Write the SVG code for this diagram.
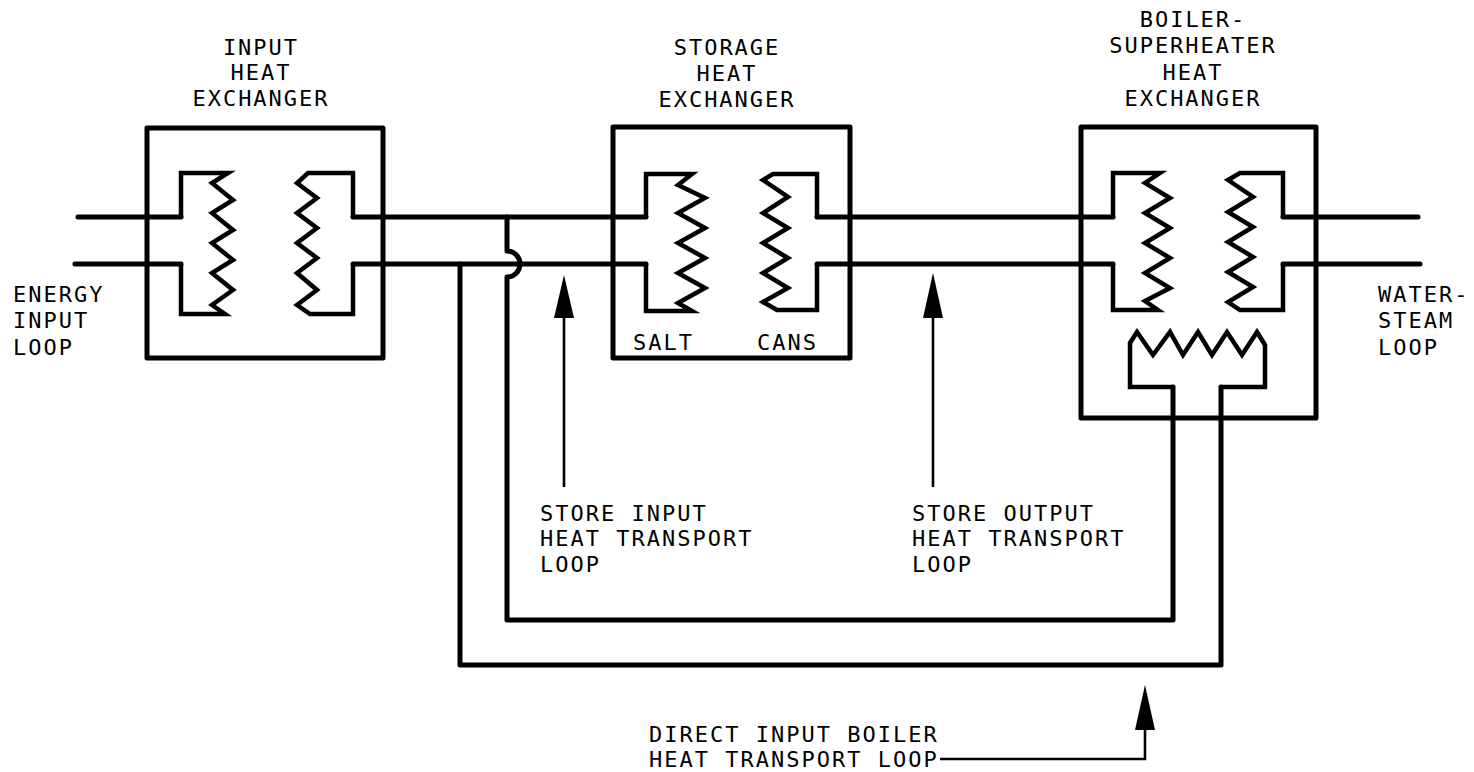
<svg xmlns="http://www.w3.org/2000/svg" width="1474" height="772" viewBox="0 0 1474 772">
<style>
.bx{fill:none;stroke:#000;stroke-width:5;stroke-linejoin:round}
.ln{fill:none;stroke:#000;stroke-width:5;stroke-linecap:round;stroke-linejoin:round}
.zz{fill:none;stroke:#000;stroke-width:4.5;stroke-linecap:round;stroke-linejoin:miter}
.th{fill:none;stroke:#000;stroke-width:2.6}
.ah{fill:#000}
text{font-family:"DejaVu Sans Mono","Liberation Mono",monospace;font-size:22px;letter-spacing:2px;fill:#000}
.c{text-anchor:middle}
</style>
<rect width="1474" height="772" fill="#fff"/>
<g id="connectors">
<path class="ln" d="M78 217 H181 M75 264 H181"/>
<path class="ln" d="M353 217 H646 M353 264 H646"/>
<path class="ln" d="M817 217 H1113 M817 264 H1113"/>
<path class="ln" d="M1283 217 H1418 M1283 264 H1420"/>
<path class="ln" d="M507 217 V251 A13 13 0 0 1 507 277 V620 H1173 V387 M1221 387 V665 H460 V264"/>
<g id="arrow-store-input">
<line class="th" x1="564" y1="312" x2="564" y2="487"/>
<polygon class="ah" points="564,275 554,318 574,318"/>
</g>
<g id="arrow-store-output">
<line class="th" x1="933" y1="312" x2="933" y2="487"/>
<polygon class="ah" points="933,273 923,318 943,318"/>
</g>
<g id="arrow-direct">
<path class="th" d="M940 759 H1145 V724"/>
<polygon class="ah" points="1145,685 1135,730 1155,730"/>
</g>
</g>
<g id="input-hx">
<rect class="bx" x="147" y="128" width="236" height="230"/>
<path class="zz" d="M181 217 V173 H228 L212 183 L233 200 L212 213 L233 230 L212 243 L233 260 L212 273 L233 290 L212 305 L225 314 H181 V264"/>
<path class="zz" d="M353 217 V173 H308 L297 183 L317 198 L297 213 L317 228 L297 243 L317 258 L297 273 L317 290 L297 305 L310 314 H353 V264"/>
<text class="c" x="261" y="55">INPUT</text>
<text class="c" x="261" y="80">HEAT</text>
<text class="c" x="261" y="106">EXCHANGER</text>
</g>
<g id="storage-hx">
<rect class="bx" x="613" y="127" width="237" height="231"/>
<path class="zz" d="M646 217 V174 H692 L678 185 L705 198 L678 213 L705 228 L678 243 L705 258 L678 273 L705 288 L678 303 L692 311 H646 V264"/>
<path class="zz" d="M817 217 V174 H773 L763 180 L788 197 L763 213 L788 228 L763 243 L788 258 L763 273 L788 288 L763 302 L777 310 H817 V264"/>
<text class="c" x="727" y="55">STORAGE</text>
<text class="c" x="727" y="81">HEAT</text>
<text class="c" x="727" y="107">EXCHANGER</text>
<text x="633" y="350">SALT</text>
<text x="757" y="350">CANS</text>
</g>
<g id="boiler-hx">
<rect class="bx" x="1081" y="127" width="235" height="291"/>
<path class="zz" d="M1113 217 V173 H1160 L1145 183 L1170 198 L1145 213 L1170 228 L1145 243 L1170 258 L1145 273 L1170 288 L1145 301 L1158 310 H1113 V264"/>
<path class="zz" d="M1283 217 V173 H1240 L1228 180 L1253 197 L1228 212 L1253 227 L1228 242 L1253 257 L1228 272 L1253 287 L1228 302 L1240 310 H1283 V264"/>
<path class="zz" d="M1173 387 H1130 V343 L1137 332 L1153 355 L1170 332 L1183 355 L1198 332 L1212 355 L1227 332 L1242 355 L1257 332 L1265 345 V387 H1221"/>
<text class="c" x="1193" y="27">BOILER-</text>
<text class="c" x="1193" y="53">SUPERHEATER</text>
<text class="c" x="1193" y="80">HEAT</text>
<text class="c" x="1193" y="106">EXCHANGER</text>
</g>
<g id="energy-input-loop">
<text x="13" y="302">ENERGY</text>
<text x="13" y="328">INPUT</text>
<text x="13" y="355">LOOP</text>
</g>
<g id="water-steam-loop">
<text x="1378" y="302">WATER-</text>
<text x="1378" y="328">STEAM</text>
<text x="1378" y="355">LOOP</text>
</g>
<g id="store-input-label">
<text x="540" y="521">STORE INPUT</text>
<text x="540" y="546">HEAT TRANSPORT</text>
<text x="540" y="572">LOOP</text>
</g>
<g id="store-output-label">
<text x="912" y="521">STORE OUTPUT</text>
<text x="912" y="546">HEAT TRANSPORT</text>
<text x="912" y="572">LOOP</text>
</g>
<g id="direct-label">
<text x="649" y="742">DIRECT INPUT BOILER</text>
<text x="649" y="767">HEAT TRANSPORT LOOP</text>
</g>
</svg>
